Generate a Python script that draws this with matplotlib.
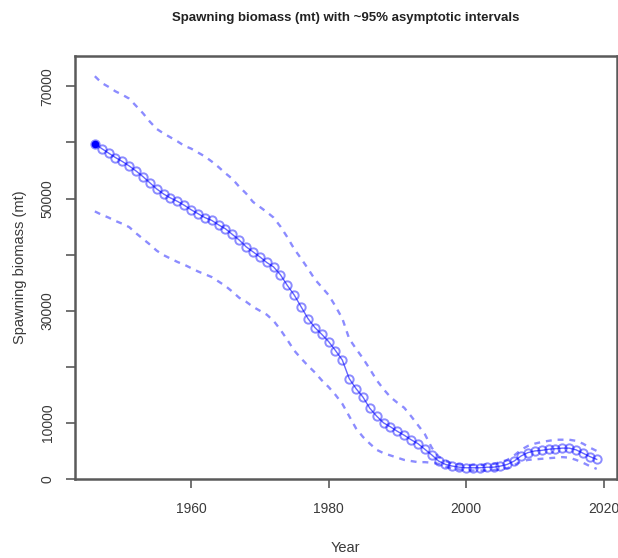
import matplotlib
matplotlib.use("Agg")
import matplotlib.pyplot as plt
import numpy as np

plt.rcParams["font.family"] = ["Liberation Sans", "DejaVu Sans"]

anos = np.arange(1946, 2020)

# biomassa desovante estimada (mil t)
biomassa = [
    59.8, 58.9, 58.1, 57.3, 56.6, 55.8, 54.9, 53.9, 52.8, 51.7,
    50.8, 50.1, 49.5, 48.8, 48.0, 47.3, 46.6, 46.1, 45.3, 44.6,
    43.6, 42.6, 41.4, 40.5, 39.6, 38.6, 37.8, 36.4, 34.5, 32.8,
    30.7, 28.6, 27.0, 25.8, 24.5, 22.9, 21.2, 17.9, 16.1, 14.6,
    12.6, 11.2, 10.0, 9.3, 8.5, 7.8, 7.0, 6.3, 5.3, 4.3,
    3.2, 2.6, 2.3, 2.1, 2.0, 2.0, 2.0, 2.1, 2.1, 2.3,
    2.6, 3.2, 4.1, 4.7, 5.0, 5.1, 5.3, 5.4, 5.5, 5.5,
    5.2, 4.6, 4.0, 3.5,
]

superior = [
    71.8, 70.6, 69.9, 69.1, 68.5, 67.8, 66.5, 65.2, 63.7, 62.4,
    61.6, 60.9, 60.2, 59.4, 58.9, 58.2, 57.5, 56.6, 55.6, 54.5,
    53.5, 52.1, 50.9, 49.4, 48.5, 47.6, 46.6, 45.0, 43.1, 41.0,
    39.3, 37.5, 35.6, 34.2, 32.8, 30.8, 28.6, 25.0, 23.2, 21.5,
    19.6, 17.6, 16.0, 14.6, 13.6, 12.7, 11.2, 9.6, 8.0, 5.6,
    4.0, 3.2, 2.8, 2.6, 2.5, 2.5, 2.5, 2.6, 2.7, 3.0,
    3.4, 4.2, 5.2, 5.9, 6.3, 6.6, 6.8, 7.0, 7.0, 7.0,
    6.8, 6.3, 5.6, 5.0,
]

inferior = [
    47.7, 47.1, 46.6, 46.0, 45.5, 44.9, 43.8, 42.8, 41.8, 40.7,
    39.9, 39.3, 38.7, 38.2, 37.6, 37.0, 36.5, 36.0, 35.2, 34.4,
    33.4, 32.3, 31.6, 30.7, 30.0, 29.3, 28.2, 26.6, 24.8, 22.9,
    21.5, 20.2, 19.0, 17.6, 16.4, 15.0, 13.4, 11.2, 9.0, 7.5,
    6.3, 5.2, 4.6, 4.2, 3.8, 3.4, 3.2, 3.0, 3.0, 2.9,
    2.7, 2.2, 1.9, 1.7, 1.6, 1.5, 1.5, 1.5, 1.6, 1.7,
    1.9, 2.5, 3.1, 3.4, 3.5, 3.6, 3.7, 3.8, 3.9, 3.8,
    3.4, 2.9, 2.3, 1.8,
]

biomassa = np.array(biomassa) * 1000
superior = np.array(superior) * 1000
inferior = np.array(inferior) * 1000

AZUL = (0.0, 0.0, 1.0, 0.45)
CINZA = "#5a5a5a"

fig = plt.figure(figsize=(6.18, 5.58), dpi=100)
ax = fig.add_axes([0.121, 0.1416, 0.877, 0.758])

ax.plot(anos, superior, linestyle=(0, (2.5, 2.5)), color=AZUL, lw=1.7)
ax.plot(anos, inferior, linestyle=(0, (2.5, 2.5)), color=AZUL, lw=1.7)
ax.plot(anos, biomassa, color=(0, 0, 1, 0.6), lw=1.0, marker="o",
        markersize=6, markerfacecolor="none", markeredgecolor=AZUL,
        markeredgewidth=1.4)
ax.plot(anos[0], biomassa[0], "o", color="blue", markersize=4.5)

ax.set_xlim(1943.08, 2021.92)
ax.set_ylim(0, 75400)
ax.set_xticks([1960, 1980, 2000, 2020])
ax.set_yticks(np.arange(0, 70001, 10000))
ax.set_yticklabels(["0", "10000", "", "30000", "", "50000", "", "70000"])

for s in ax.spines.values():
    s.set_color(CINZA)
    s.set_linewidth(1.8)

ax.tick_params(axis="both", direction="out", length=6.5, width=1.2,
               color=CINZA, labelsize=10, labelcolor="#3a3a3a")
ax.tick_params(axis="x", pad=10)
ax.tick_params(axis="y", pad=8)
for t in ax.get_yticklabels():
    t.set_rotation(90)
    t.set_va("center")

centro_x = 0.121 + 0.877 / 2
fig.text(centro_x, 1 - 18 / 558, "Spawning biomass (mt) with ~95% asymptotic intervals",
         ha="center", va="center", fontsize=9.5, fontweight="bold", color="#222222")
fig.text(20 / 618, 0.1416 + 0.758 / 2, "Spawning biomass (mt)",
         rotation=90, ha="center", va="center", fontsize=10.5, color="#3a3a3a")
fig.text(centro_x, 1 - 548 / 558, "Year", ha="center", va="center",
         fontsize=10.5, color="#3a3a3a")

fig.savefig("out.png", dpi=100)
